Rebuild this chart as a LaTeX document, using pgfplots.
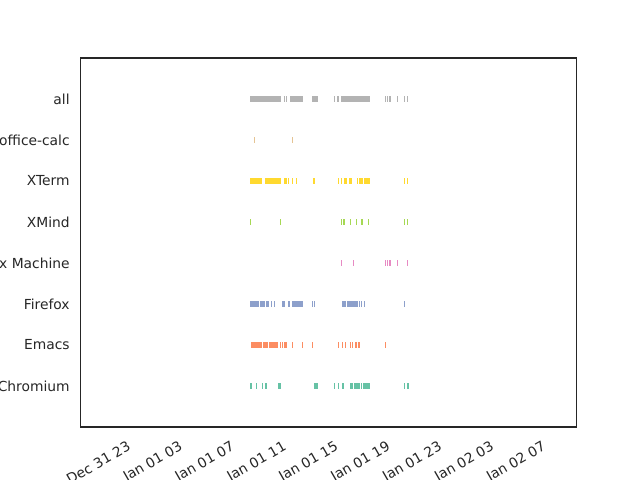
\documentclass[border=0pt]{standalone}
\usepackage{pgfplots}
\pgfplotsset{compat=1.18}
\usepackage{fontspec}
\setmainfont{DejaVu Sans}
\definecolor{txt}{HTML}{262626}
\definecolor{cChromium}{HTML}{66C2A5}
\definecolor{cEmacs}{HTML}{FC8D62}
\definecolor{cFirefox}{HTML}{8DA0CB}
\definecolor{cVBox}{HTML}{E78AC3}
\definecolor{cXMind}{HTML}{A6D854}
\definecolor{cXTerm}{HTML}{FFD92F}
\definecolor{cCalc}{HTML}{E5C494}
\definecolor{cAll}{HTML}{B3B3B3}
\begin{document}
\begin{tikzpicture}
\useasboundingbox (-57.96bp,-38.16bp) rectangle (402.84bp,307.44bp);
\begin{axis}[
  scale only axis,
  width=356.8bp, height=265.7bp,
  xmin=-4.97, xmax=33.23,
  ymin=-1, ymax=8,
  axis line style={draw=txt, line width=0.8bp},
  major tick length=0pt,
  xtick={-1,3,7,11,15,19,23,27,31},
  xticklabels={Dec 31 23,Jan 01 03,Jan 01 07,Jan 01 11,Jan 01 15,Jan 01 19,Jan 01 23,Jan 02 03,Jan 02 07},
  ytick={0,1,2,3,4,5,6,7},
  yticklabels={Chromium,Emacs,Firefox,VirtualBox Machine,XMind,XTerm,office-calc,all},
  xticklabel style={xshift=-4bp, yshift=-9.4bp, rotate=30, anchor=north east, inner sep=0pt, text=txt, font=\fontsize{10}{12}\selectfont},
  yticklabel style={anchor=east, inner sep=0pt, xshift=-7.6bp, text=txt, font=\fontsize{10}{12}\selectfont},
  unbounded coords=jump,
  every axis plot/.append style={line width=4.4bp, line cap=butt},
]
% Chromium
\addplot[cChromium] coordinates {(8.10,0) (8.25,0) (nan,0) (8.56,0) (8.64,0) (nan,0) (9.02,0) (9.10,0) (nan,0) (9.25,0) (9.41,0) (nan,0) (10.26,0) (10.49,0) (nan,0) (13.03,0) (13.34,0) (nan,0) (14.57,0) (14.65,0) (nan,0) (14.88,0) (14.96,0) (nan,0) (15.19,0) (15.34,0) (nan,0) (15.80,0) (16.04,0) (nan,0) (16.11,0) (16.58,0) (nan,0) (16.65,0) (16.73,0) (nan,0) (16.81,0) (17.35,0) (nan,0) (19.97,0) (20.05,0) (nan,0) (20.18,0) (20.36,0)};
% Emacs
\addplot[cEmacs] coordinates {(8.18,1) (9.02,1) (nan,1) (9.10,1) (9.49,1) (nan,1) (9.56,1) (10.26,1) (nan,1) (10.41,1) (10.49,1) (nan,1) (10.57,1) (10.64,1) (nan,1) (10.72,1) (10.95,1) (nan,1) (11.34,1) (11.41,1) (nan,1) (12.11,1) (12.18,1) (nan,1) (12.88,1) (12.96,1) (nan,1) (14.88,1) (14.96,1) (nan,1) (15.19,1) (15.27,1) (nan,1) (15.42,1) (15.50,1) (nan,1) (15.80,1) (15.88,1) (nan,1) (15.96,1) (16.04,1) (nan,1) (16.19,1) (16.34,1) (nan,1) (16.42,1) (16.58,1) (nan,1) (18.51,1) (18.58,1)};
% Firefox
\addplot[cFirefox] coordinates {(8.10,2) (8.79,2) (nan,2) (8.87,2) (9.25,2) (nan,2) (9.33,2) (9.56,2) (nan,2) (9.72,2) (9.79,2) (nan,2) (9.95,2) (10.06,2) (nan,2) (10.57,2) (10.77,2) (nan,2) (11.03,2) (11.18,2) (nan,2) (11.34,2) (12.18,2) (nan,2) (12.88,2) (12.96,2) (nan,2) (13.03,2) (13.11,2) (nan,2) (15.19,2) (15.50,2) (nan,2) (15.57,2) (16.42,2) (nan,2) (16.50,2) (16.58,2) (nan,2) (16.65,2) (16.73,2) (nan,2) (16.88,2) (16.96,2) (nan,2) (19.97,2) (20.05,2)};
% VirtualBox Machine
\addplot[cVBox] coordinates {(15.11,3) (15.19,3) (nan,3) (16.04,3) (16.11,3) (nan,3) (18.51,3) (18.58,3) (nan,3) (18.66,3) (18.74,3) (nan,3) (18.82,3) (18.97,3) (nan,3) (19.43,3) (19.51,3) (nan,3) (20.20,3) (20.28,3)};
% XMind
\addplot[cXMind] coordinates {(8.10,4) (8.18,4) (nan,4) (10.41,4) (10.49,4) (nan,4) (15.11,4) (15.19,4) (nan,4) (15.27,4) (15.42,4) (nan,4) (15.80,4) (15.88,4) (nan,4) (16.27,4) (16.34,4) (nan,4) (16.65,4) (16.81,4) (nan,4) (17.20,4) (17.27,4) (nan,4) (19.97,4) (20.05,4) (nan,4) (20.18,4) (20.26,4)};
% XTerm
\addplot[cXTerm] coordinates {(8.10,5) (9.02,5) (nan,5) (9.25,5) (10.49,5) (nan,5) (10.72,5) (10.95,5) (nan,5) (11.05,5) (11.13,5) (nan,5) (11.34,5) (11.41,5) (nan,5) (11.64,5) (11.72,5) (nan,5) (12.96,5) (13.11,5) (nan,5) (14.88,5) (14.96,5) (nan,5) (15.11,5) (15.19,5) (nan,5) (15.34,5) (15.57,5) (nan,5) (15.73,5) (15.96,5) (nan,5) (16.34,5) (16.42,5) (nan,5) (16.50,5) (16.84,5) (nan,5) (16.88,5) (17.35,5) (nan,5) (19.97,5) (20.05,5) (nan,5) (20.20,5) (20.28,5)};
% office-calc
\addplot[cCalc] coordinates {(8.43,6) (8.51,6) (nan,6) (11.36,6) (11.44,6)};
% all
\addplot[cAll] coordinates {(8.10,7) (10.49,7) (nan,7) (10.68,7) (10.76,7) (nan,7) (10.87,7) (10.95,7) (nan,7) (11.18,7) (12.18,7) (nan,7) (12.88,7) (13.34,7) (nan,7) (14.57,7) (14.65,7) (nan,7) (14.84,7) (14.92,7) (nan,7) (15.11,7) (17.35,7) (nan,7) (18.51,7) (18.61,7) (nan,7) (18.68,7) (18.76,7) (nan,7) (18.82,7) (18.95,7) (nan,7) (19.45,7) (19.53,7) (nan,7) (19.97,7) (20.05,7) (nan,7) (20.20,7) (20.30,7)};
\end{axis}
\end{tikzpicture}
\end{document}
